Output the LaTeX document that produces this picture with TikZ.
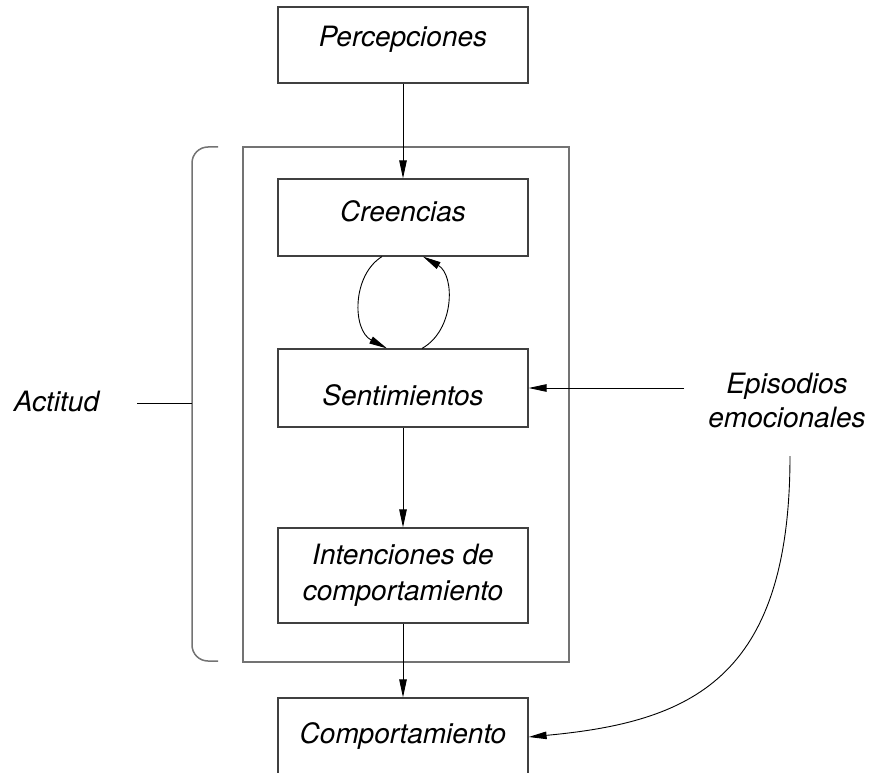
\documentclass[tikz,border=0pt]{standalone}
\usepackage{fontspec}
\setmainfont{TeX Gyre Heros}
\usetikzlibrary{arrows.meta}
\begin{document}
\begin{tikzpicture}[x=1pt,y=-1pt,
  txt/.style={font=\fontsize{28}{34}\selectfont\itshape},
  box/.style={txt, draw=black!75, line width=1.2pt, minimum width=250pt, inner sep=0pt},
  frame/.style={draw=black!55, line width=1.5pt},
  conn/.style={draw=black, line width=0.9pt, -{Triangle[length=18pt,width=7.5pt]}},
  lbl/.style={txt, inner sep=0pt}
]
\useasboundingbox (0,0) rectangle (873,773);
% outer frame
\node[frame, minimum width=326pt, minimum height=515pt, inner sep=0pt] (actbox) at (406,404.5) {};
% boxes
\node[box, minimum height=76pt, text height=22pt, text depth=18pt] (perc) at (403,45) {Percepciones};
\node[box, minimum height=77pt, text height=22pt, text depth=15pt] (cre) at (403,217.5) {Creencias};
\node[box, minimum height=78pt, text height=34pt, text depth=0pt] (sen) at (403,388) {Sentimientos};
\node[box, minimum height=95pt, align=center, font=\fontsize{28}{36}\selectfont\itshape, text height=56pt, text depth=7pt] (int) at (403,575.5) {Intenciones de\\comportamiento};
\node[box, minimum height=78pt, text height=24pt, text depth=12pt] (comp) at (403,737) {Comportamiento};
% labels
\node[lbl, align=center, anchor=north] (epi) at (787,372.6) {Episodios\\emocionales};
\node[lbl, anchor=base] (act) at (56.5,411) {Actitud};
% coordinates
\coordinate (actL) at (137,403);
\coordinate (braceM) at (192,403);
\coordinate (epiL) at (684,388);
\coordinate (epiB) at (790,456);
% brace
\draw[frame, rounded corners=16pt] (218,147) -- (192,147) -- (192,661) -- (218,661);
\draw[line width=0.9pt] (actL) -- (braceM);
% connectors
\draw[conn] (perc.south) -- (cre.north);
\draw[conn] (sen.south) -- (int.north);
\draw[conn] (int.south) -- (comp.north);
\draw[conn] (epiL) -- (sen.east);
\draw[conn] (epiB) .. controls (790,680) and (690,722) .. (comp.east);
\draw[conn] ([xshift=-21pt]cre.south) .. controls (352,275) and (352,330) .. ([xshift=-16pt]sen.north);
\draw[conn] ([xshift=19pt]sen.north) .. controls (455,330) and (455,275) .. ([xshift=20pt]cre.south);
\end{tikzpicture}
\end{document}
